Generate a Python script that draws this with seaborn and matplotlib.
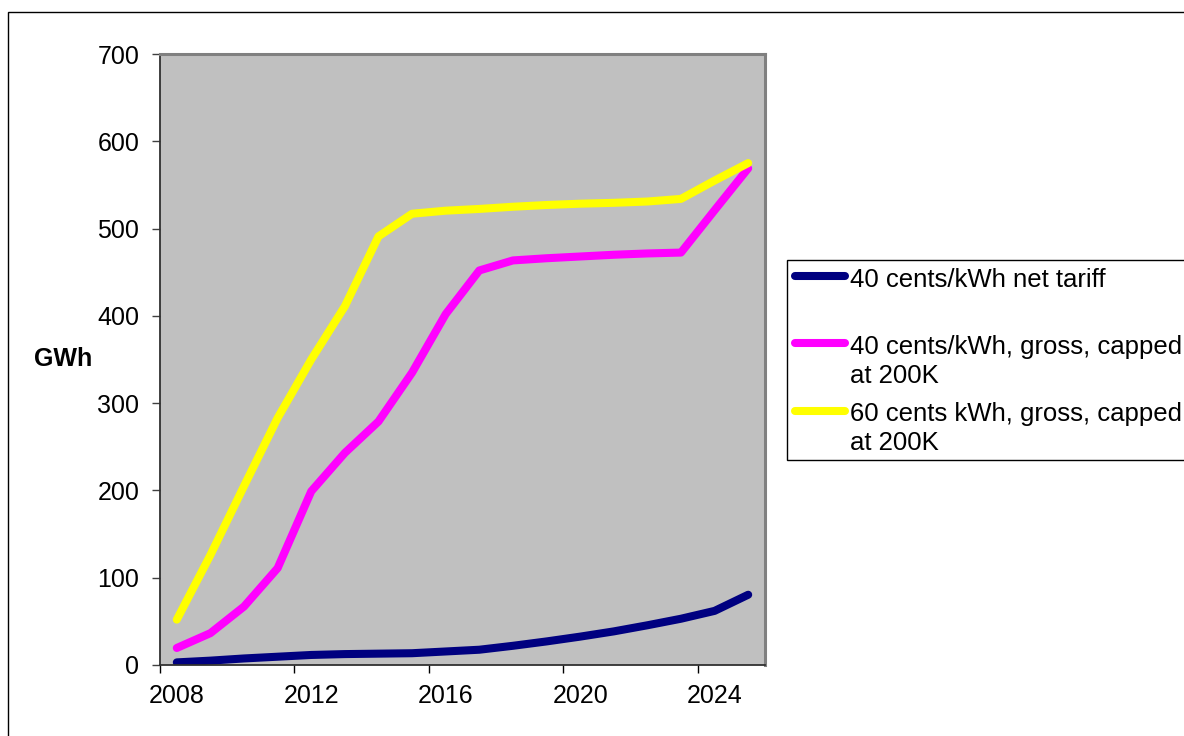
import numpy as np
import pandas as pd
import matplotlib
matplotlib.use("Agg")
import matplotlib.pyplot as plt
from matplotlib.lines import Line2D
from matplotlib.patches import Rectangle
import seaborn as sns

# --- data -------------------------------------------------------------
years = [2008, 2009, 2010, 2011, 2012, 2013, 2014, 2015, 2016,
         2017, 2018, 2019, 2020, 2021, 2022, 2023, 2024, 2025]
net_40 = [3, 5, 7.5, 9.5, 11.5, 12.5, 13, 13.5, 15.5,
          17.5, 22, 27, 32.5, 38.5, 45.5, 53, 62, 80.5]
gross_40 = [19.5, 36.5, 67, 111, 199, 243, 279, 335, 402,
            452, 463.5, 466, 468, 470, 471.5, 472.5, 521, 569]
gross_60 = [52, 126, 205, 283, 350, 411, 491, 517, 520.5,
            522.5, 525, 527, 528.5, 529.5, 531, 534, 555, 575]

series_labels = ["40 cents/kWh net tariff",
                 "40 cents/kWh, gross, capped\nat 200K",
                 "60 cents kWh, gross, capped\nat 200K"]
series_colors = ["#000080", "#FF00FF", "#FFFF00"]
year_ticks = [2008, 2012, 2016, 2020, 2024]
y_ticks = [0, 100, 200, 300, 400, 500, 600, 700]
y_title = "GWh"

# --- frame --------------------------------------------------------------
long = pd.concat([
    pd.DataFrame({"year": years, "GWh": vals, "series": lab})
    for vals, lab in zip([net_40, gross_40, gross_60], series_labels)
], ignore_index=True)

sns.set_theme(style="white")
plt.rcParams["font.family"] = ["Liberation Sans", "DejaVu Sans"]
plt.rcParams["text.color"] = "black"

W, H = 1184, 736
fig = plt.figure(figsize=(W / 100, H / 100), dpi=100)
fig.patch.set_facecolor("white")
ax = fig.add_axes([160 / W, 1 - 665 / H, 605 / W, 611 / H])
ax.set_facecolor("#C0C0C0")

LW = 5.8
sns.lineplot(data=long, x="year", y="GWh", hue="series",
             hue_order=series_labels, palette=series_colors,
             linewidth=LW, legend=False, ax=ax,
             solid_capstyle="round", solid_joinstyle="round")

ax.set_xlim(years[0] - 0.5, years[-1] + 0.5)
ax.set_ylim(y_ticks[0], y_ticks[-1])

# year labels sit on category centres, tick marks on category boundaries
ax.set_xticks(year_ticks)
ax.set_xticklabels([str(y) for y in year_ticks])
ax.set_xticks([y - 0.5 for y in year_ticks], minor=True)
ax.tick_params(axis="x", which="major", length=0, pad=14, labelsize=18,
               labelcolor="black")
ax.tick_params(axis="x", which="minor", bottom=True, length=6, width=1,
               direction="out", color="black")

ax.set_yticks(y_ticks)
ax.set_yticklabels([str(v) for v in y_ticks])
ax.tick_params(axis="y", which="major", left=True, length=6, width=1,
               direction="out", pad=9, labelsize=18, color="#404040",
               labelcolor="black")

ax.set_xlabel("")
ax.set_ylabel(y_title, rotation=0, fontsize=18, fontweight="bold",
              va="center", ha="center", color="black")
ax.yaxis.set_label_coords((63 - 160) / 605, 0.5)

for side in ["top", "right"]:
    ax.spines[side].set_color("#808080")
    ax.spines[side].set_linewidth(2.2)
for side in ["left", "bottom"]:
    ax.spines[side].set_color("#303030")
    ax.spines[side].set_linewidth(1.3)
for sp in ax.spines.values():
    sp.set_visible(True)

# --- legend box ----------------------------------------------------------
def fx(px):
    return px / W


def fy(py):
    return 1 - py / H


fig.add_artist(Rectangle((fx(787), fy(460)), 1.0, fy(260) - fy(460),
                         transform=fig.transFigure, fill=True,
                         facecolor="white", edgecolor="black", lw=1.0))
handle_y = [276, 343, 411]
text_base = [287, 354, 421]
line_step = 29
for lab, col, hy, by in zip(series_labels, series_colors, handle_y, text_base):
    fig.add_artist(Line2D([fx(795), fx(845)], [fy(hy), fy(hy)],
                          transform=fig.transFigure, color=col, lw=LW,
                          solid_capstyle="round"))
    for i, part in enumerate(lab.split("\n")):
        fig.text(fx(850), fy(by + i * line_step), part, ha="left",
                 va="baseline", fontsize=18.5, color="black")

# outer chart border
fig.add_artist(Rectangle((fx(8), -1.0), 2.0, fy(12) + 1.0,
                         transform=fig.transFigure, fill=False,
                         edgecolor="black", lw=1.0))

fig.savefig("out.png", dpi=100, facecolor="white")
